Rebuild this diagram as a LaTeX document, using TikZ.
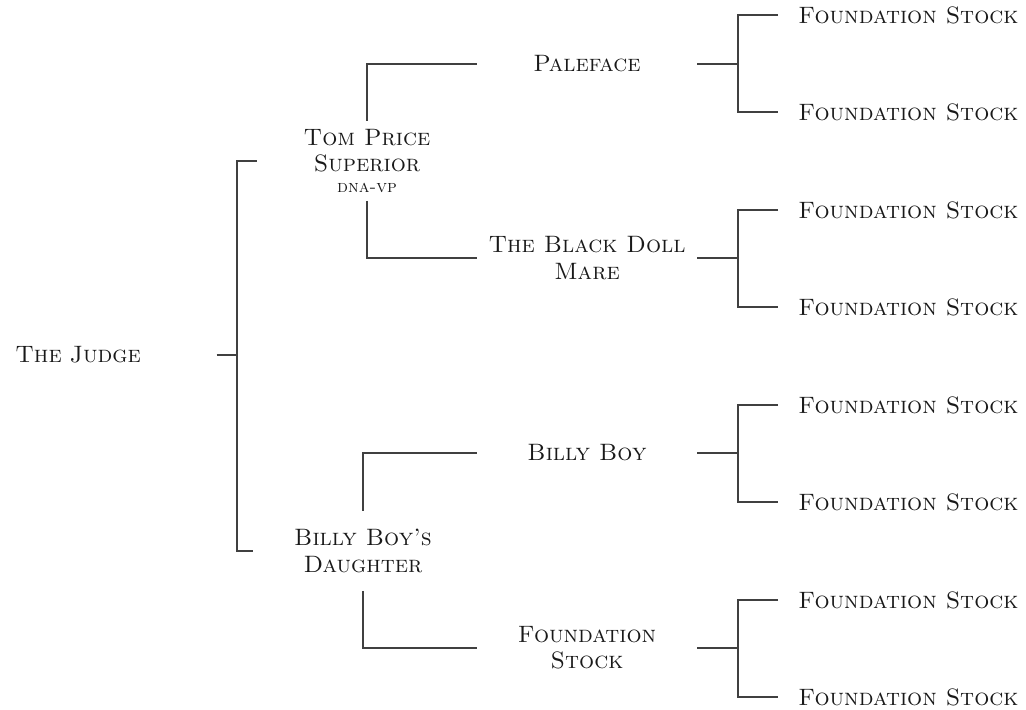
\documentclass[tikz,border=0pt]{standalone}
\usepackage{tikz}
\usetikzlibrary{positioning}

\begin{document}
\begin{tikzpicture}[
    x=0.02cm, y=-0.02cm,
    font=\fontsize{13.5}{15}\selectfont\scshape,
    horse/.style={align=center, inner sep=0pt, text=black!90},
    sire/.style={horse, minimum width=4.4cm, minimum height=1.58cm},
    parent/.style={horse, minimum width=4.4cm},
    stock/.style={horse, anchor=west, inner xsep=0.4cm},
    link/.style={draw=black!75, line width=0.6pt},
  ]
  \useasboundingbox (0,0) rectangle (1026,709);
  % subject
  \node[horse, anchor=west, text width=4.02cm, align=left] (judge) at (15,355) {The Judge};
  % sire and dam
  \node[sire] (tom) at (367,161) {Tom Price\\Superior\\[-3pt]{\fontsize{10}{11}\selectfont dna-vp}};
  \node[sire] (bbd) at (363,551) {Billy Boy's\\Daughter};
  % grandparents
  \node[parent] (paleface) at (587,64) {Paleface};
  \node[parent] (doll) at (587,258) {The Black Doll\\Mare};
  \node[parent] (billy) at (587,453) {Billy Boy};
  \node[parent] (granddam) at (587,648) {Foundation\\Stock};
  % great-grandparents
  \node[stock] (fs1) at (778,15) {Foundation Stock};
  \node[stock] (fs2) at (778,112) {Foundation Stock};
  \node[stock] (fs3) at (778,210) {Foundation Stock};
  \node[stock] (fs4) at (778,307) {Foundation Stock};
  \node[stock] (fs5) at (778,405) {Foundation Stock};
  \node[stock] (fs6) at (778,502) {Foundation Stock};
  \node[stock] (fs7) at (778,600) {Foundation Stock};
  \node[stock] (fs8) at (778,697) {Foundation Stock};
  % fork points
  \coordinate (jfork) at (237,355);
  \coordinate (pfork) at (738,64);
  \coordinate (dfork) at (738,258);
  \coordinate (bfork) at (738,453);
  \coordinate (gfork) at (738,648);
  % connectors
  \draw[link] (judge.east) -- (jfork);
  \draw[link] (tom.west) -| (jfork) |- (bbd.west);
  \draw[link] (paleface.west) -| (tom.north);
  \draw[link] (tom.south) |- (doll.west);
  \draw[link] (billy.west) -| (bbd.north);
  \draw[link] (bbd.south) |- (granddam.west);
  \draw[link] (paleface.east) -- (pfork);
  \draw[link] (fs1.west) -| (pfork) |- (fs2.west);
  \draw[link] (doll.east) -- (dfork);
  \draw[link] (fs3.west) -| (dfork) |- (fs4.west);
  \draw[link] (billy.east) -- (bfork);
  \draw[link] (fs5.west) -| (bfork) |- (fs6.west);
  \draw[link] (granddam.east) -- (gfork);
  \draw[link] (fs7.west) -| (gfork) |- (fs8.west);
\end{tikzpicture}
\end{document}
